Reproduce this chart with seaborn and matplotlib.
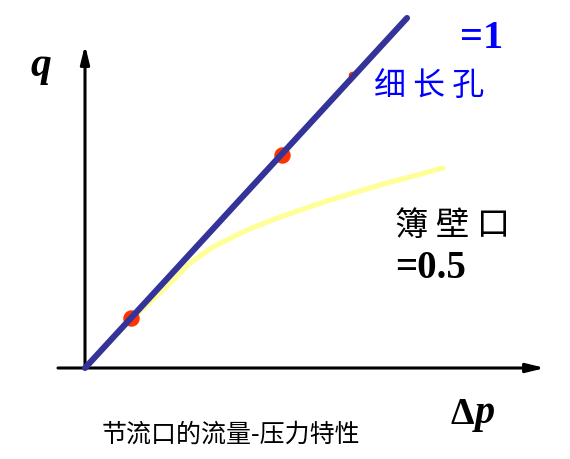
"""
plot.py
Curva caudal-presión de orificios de estrangulación (细长孔 vs 簿壁口).
"""
import matplotlib
matplotlib.use("Agg")
import matplotlib.pyplot as plt
import pandas as pd
import seaborn as sns

# --- Datos (Δp, q) ---
dp_long = [0.0, 3.22]                 # 细长孔, m = 1 (recta)
q_long = [0.0, 3.50]

dp_thin = [0.0, 0.45, 0.78, 1.05, 1.28, 1.62, 1.95, 2.45, 2.95, 3.58]   # 簿壁口, m = 0.5
q_thin = [0.0, 0.48, 0.78, 1.05, 1.21, 1.38, 1.51, 1.68, 1.83, 2.00]

dp_pts = [0.46, 1.97]                 # puntos rojos
q_pts = [0.50, 2.13]
dp_hidden = [2.67]                    # punto casi oculto bajo la recta
q_hidden = [2.93]

caption = "节流口的流量-压力特性"

BLUE = "#333399"
YELLOW = "#FFFF99"
RED = "#FF3300"

sns.set_theme(style="white")
plt.rcParams["font.family"] = ["Noto Sans CJK SC", "DejaVu Sans"]
plt.rcParams["text.color"] = "black"

fig = plt.figure(figsize=(5.7, 4.59), dpi=100)
ax = fig.add_axes([0, 0, 1, 1])
ax.set_xlim(-0.85, 4.85)
ax.set_ylim(-0.91, 3.68)
ax.axis("off")

# Ejes con flechas
arrow = dict(arrowstyle="-|>,head_length=0.9,head_width=0.22", color="black",
             lw=2.2, shrinkA=0, shrinkB=0)
ax.annotate("", xy=(0, 3.23), xytext=(0, 0), arrowprops=arrow)
ax.annotate("", xy=(4.60, 0), xytext=(-0.27, 0), arrowprops=arrow)

# Curvas
df_thin = pd.DataFrame({"dp": dp_thin, "q": q_thin})
sns.lineplot(data=df_thin, x="dp", y="q", color=YELLOW, lw=3.8, ax=ax, zorder=2)

df_pts = pd.DataFrame({"dp": dp_pts, "q": q_pts})
sns.scatterplot(data=df_pts, x="dp", y="q", color=RED, s=140, linewidth=0, ax=ax, zorder=3)
df_hid = pd.DataFrame({"dp": dp_hidden, "q": q_hidden})
sns.scatterplot(data=df_hid, x="dp", y="q", color=RED, s=30, linewidth=0, ax=ax, zorder=3)

df_long = pd.DataFrame({"dp": dp_long, "q": q_long})
sns.lineplot(data=df_long, x="dp", y="q", color=BLUE, lw=4.4, ax=ax, zorder=4)

# Textos
serif = ["Liberation Serif", "DejaVu Serif"]
ax.text(-0.44, 3.02, "q", family=serif, fontsize=30, fontweight="bold",
        fontstyle="italic", color="black", ha="center", va="center")
ax.text(3.77, -0.46, "Δ", family=serif, fontsize=27, fontweight="bold",
        color="black", ha="center", va="center")
ax.text(4.00, -0.46, "p", family=serif, fontsize=29, fontweight="bold",
        fontstyle="italic", color="black", ha="center", va="center")
ax.text(3.97, 3.30, "=1", family=serif, fontsize=29, fontweight="bold",
        color="#0000FF", ha="center", va="center")
ax.text(3.44, 2.81, "细 长 孔", fontsize=23, color="#0000FF", ha="center", va="center")
ax.text(3.68, 1.43, "簿 壁 口", fontsize=24, color="black", ha="center", va="center")
ax.text(3.46, 0.99, "=0.5", family=serif, fontsize=28, fontweight="bold",
        color="black", ha="center", va="center")
ax.text(1.46, -0.67, caption, fontsize=18, color="black", ha="center", va="center")

fig.savefig("out.png", dpi=100)
plt.close(fig)
